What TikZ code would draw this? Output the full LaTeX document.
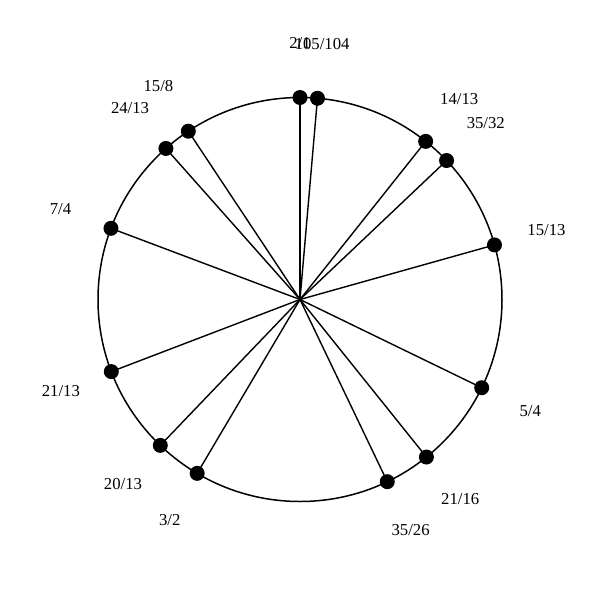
\documentclass[tikz,border=0pt]{standalone}
\usepackage{fontspec}
\setmainfont{Liberation Serif}
\usetikzlibrary{calc}
\begin{document}
\begin{tikzpicture}[x=1pt,y=-1pt,
  dot/.style={circle,fill=black,inner sep=0pt,minimum size=15pt},
  lbl/.style={font=\fontsize{16.7}{20}\selectfont,inner sep=0pt},
  spoke/.style={line width=1.4pt}]
\useasboundingbox (0,0) rectangle (600,600);
\coordinate (c) at (300,299.5);
\draw[line width=1.5pt] (c) circle[radius=202];
\foreach \r/\n [count=\i] in {1/2\slash 1,1.009615/105\slash 104,1.076923/14\slash 13,1.09375/35\slash 32,1.153846/15\slash 13,1.25/5\slash 4,1.3125/21\slash 16,1.346154/35\slash 26,1.5/3\slash 2,1.538462/20\slash 13,1.615385/21\slash 13,1.75/7\slash 4,1.846154/24\slash 13,1.875/15\slash 8}{
  \pgfmathsetmacro{\a}{360*ln(\r)/ln(2)}
  \node[dot] (p\i) at ($(c)+({202*sin(\a)},{-202*cos(\a)})$) {};
  \draw[spoke] (c) -- (p\i.center);
  \node[lbl] (l\i) at ($(c)+({256*sin(\a)},{-256*cos(\a)})$) {\n};
}
\end{tikzpicture}
\end{document}
